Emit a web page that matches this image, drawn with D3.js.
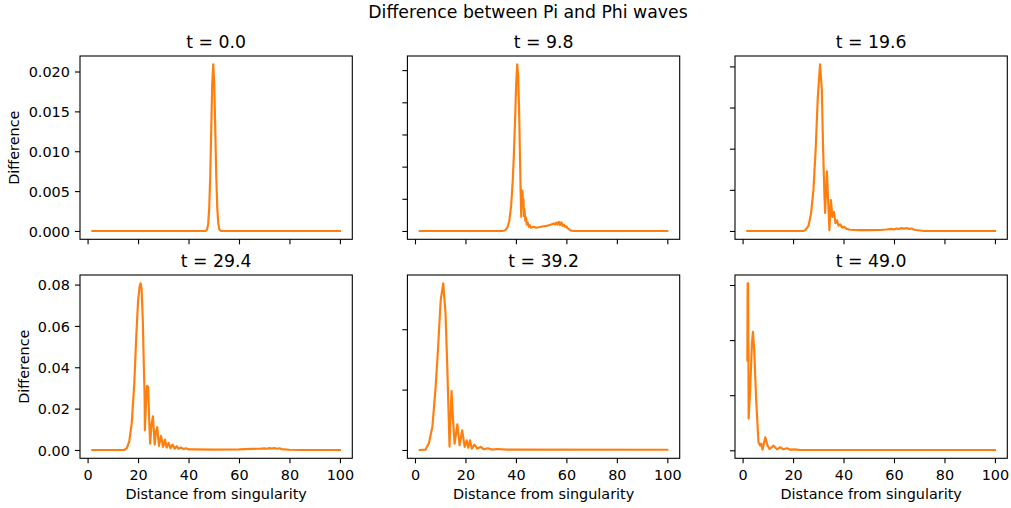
<!DOCTYPE html>
<html><head><meta charset="utf-8">
<script src="https://cdn.jsdelivr.net/npm/d3@7"></script>
<style>
body{margin:0;background:#fff;}
svg text{font-family:"DejaVu Sans",sans-serif;fill:#000;}
</style></head><body>
<svg id="c" width="1011" height="508"></svg>
<script>
// ---------------- data ----------------
const figTitle = "Difference between Pi and Phi waves";
const titles = ["t = 0.0","t = 9.8","t = 19.6","t = 29.4","t = 39.2","t = 49.0"];
const xLabel = "Distance from singularity";
const yLabel = "Difference";
const xStart = 1.9, xEnd = 100;
const xTicks = [0,20,40,60,80,100];
const xTickLabels = ["0","20","40","60","80","100"];

const yTicksT0 = [0,0.005,0.010,0.015,0.020];
const yTickLabelsT0 = ["0.000","0.005","0.010","0.015","0.020"];
const yTicksT9 = [0,0.005,0.010,0.015,0.020,0.025];
const yTicksT19 = [0,0.01,0.02,0.03,0.04];
const yTicksT29 = [0,0.02,0.04,0.06,0.08];
const yTickLabelsT29 = ["0.00","0.02","0.04","0.06","0.08"];
const yTicksT39 = [0,0.05,0.10];
const yTicksT49 = [0,0.1,0.2,0.3];

// [distance, difference]
const diffT0 = [[1.9,0],[46.2,0],[46.6,0.00001],[47.0,0.00005],[47.4,0.00023],[47.8,0.00092],[48.2,0.00283],[48.6,0.00679],[49.0,0.01268],[49.4,0.01844],[49.8,0.0209],[50.2,0.01844],[50.6,0.01268],[51.0,0.00679],[51.4,0.00283],[51.8,0.00092],[52.2,0.00023],[52.6,0.00005],[53.0,0.00001],[53.4,0],[100,0]];

const diffT9 = [[1.9,0],[34.6,0],[35.6,0.00008],[36.6,0.0005],[37.4,0.0016],[38.1,0.0039],[38.7,0.0075],[39.2,0.0119],[39.7,0.0176],[40.1,0.0228],[40.5,0.0259],[40.9,0.0241],[41.3,0.0181],[41.6,0.0117],[41.9,0.0057],[42.1,0.0022],[42.35,0.0063],[42.6,0.0062],[42.8,0.0039],[43.0,0.0049],[43.2,0.0023],[43.4,0.0034],[43.7,0.0016],[44.0,0.0021],[44.3,0.0010],[44.7,0.0013],[45.1,0.00065],[45.5,0.0009],[46.0,0.0005],[47,0.00065],[48,0.0005],[49,0.00057],[50,0.00065],[51,0.00073],[52,0.00078],[53,0.0009],[54,0.001],[55,0.00117],[55.5,0.001],[56,0.0013],[56.5,0.001],[57,0.00142],[57.5,0.0009],[58,0.00135],[58.5,0.00078],[59,0.001],[59.5,0.00065],[60,0.00073],[60.5,0.0004],[61,0.0003],[61.5,0.00013],[62,0.00005],[63,0],[100,0]];

const diffT19 = [[1.9,0],[24.0,0],[24.8,0.0002],[26.1,0.0012],[27.1,0.0041],[28.1,0.0101],[29.0,0.0203],[29.8,0.0324],[30.7,0.0405],[31.4,0.0344],[31.9,0.0203],[32.3,0.0113],[32.7,0.0044],[33.4,0.0145],[34.0,0.0061],[34.4,0.0002],[35.0,0.0075],[35.6,0.0034],[36.2,0.0046],[36.8,0.0019],[37.4,0.0026],[38.0,0.0013],[38.7,0.0016],[39.5,0.0008],[40.2,0.001],[41.3,0.0005],[42.6,0.0003],[44,0.00024],[46,0.0002],[50,0.0002],[54.5,0.00024],[57,0.00036],[59,0.0005],[60,0.00036],[61,0.0006],[62,0.00045],[63,0.0007],[64,0.00053],[65,0.0007],[66,0.0005],[67,0.0006],[68,0.0003],[70.3,0.00012],[72,0],[100,0]];

const diffT29 = [[1.9,0],[14.5,0],[15.5,0.0008],[16.5,0.004],[17.5,0.013],[18.5,0.032],[19.3,0.055],[20.0,0.072],[20.6,0.079],[21.0,0.0806],[21.4,0.078],[21.9,0.062],[22.3,0.040],[22.6,0.026],[22.7,0.0095],[23.2,0.024],[23.6,0.031],[24.0,0.0305],[24.4,0.015],[24.8,0.003],[25.3,0.012],[25.9,0.0163],[26.6,0.0026],[27.1,0.009],[27.6,0.011],[28.3,0.002],[29.1,0.0068],[29.9,0.0015],[30.7,0.005],[31.3,0.0012],[32.1,0.0034],[32.9,0.0008],[33.7,0.0026],[34.5,0.0006],[35.3,0.0018],[36.1,0.0005],[37.0,0.0012],[38.0,0.0004],[39.0,0.0008],[40.0,0.0003],[42,0.0003],[50,0.0002],[60,0.0003],[65,0.0005],[68,0.0006],[70,0.0008],[71,0.0006],[72,0.0009],[73,0.0007],[74,0.0009],[75,0.0006],[76,0.0008],[77,0.0004],[78,0.0003],[80,0.0001],[85,0],[100,0]];

const diffT39 = [[1.9,0],[4.2,0.0003],[5.5,0.0055],[6.9,0.0193],[8.2,0.0524],[9.1,0.0828],[10.2,0.1242],[11.2,0.138],[12.1,0.1132],[12.8,0.069],[13.5,0.0166],[13.7,0.0028],[14.5,0.0487],[15.0,0.0276],[15.7,0.0052],[16.8,0.0213],[17.7,0.0039],[18.7,0.0163],[19.7,0.0025],[20.5,0.008],[21.1,0.0019],[21.8,0.008],[22.5,0.0011],[23.6,0.0044],[24.7,0.0011],[26.0,0.0025],[27.3,0.0006],[28.9,0.0014],[30.6,0.0003],[32.6,0.0008],[36.5,0.0003],[100,0.0002]];

const diffT49 = [[1.9,0.163],[2.0,0.303],[2.2,0.303],[2.4,0.0576],[3.0,0.1085],[3.7,0.194],[4.1,0.215],[4.6,0.182],[5.4,0.0909],[6.3,0.0145],[7.0,0.0085],[7.4,0.0121],[7.9,0.0012],[9.0,0.0236],[9.9,0.0085],[10.7,0.0024],[12.3,0.0085],[13.6,0.0018],[14.9,0.0055],[16.2,0.0018],[17.6,0.0036],[18.9,0.0012],[20.5,0.0018],[22.5,0.0009],[25,0.0006],[100,0.0006]];

// ---------------- layout ----------------
const colLeft = [80, 407.4, 735];
const rowTop = [56, 275];
const plotW = 272.3, plotH = 183.3;
const fs = 14.4, titleFs = 17.3;
const tickLen = 5.05;

const panels = [
  {data: diffT0,  ticks: yTicksT0,  labels: yTickLabelsT0,  r:0, c:0},
  {data: diffT9,  ticks: yTicksT9,  labels: null, r:0, c:1},
  {data: diffT19, ticks: yTicksT19, labels: null, r:0, c:2},
  {data: diffT29, ticks: yTicksT29, labels: yTickLabelsT29, r:1, c:0},
  {data: diffT39, ticks: yTicksT39, labels: null, r:1, c:1},
  {data: diffT49, ticks: yTicksT49, labels: null, r:1, c:2}
];

const svg = d3.select("#c");
svg.append("rect").attr("width",1011).attr("height",508).attr("fill","#fff");

svg.append("text").attr("x", 528).attr("y", 18)
  .attr("text-anchor","middle").attr("font-size", titleFs).text(figTitle);

const span = xEnd - xStart;
const x = d3.scaleLinear().domain([xStart - 0.05*span, xEnd + 0.05*span]).range([0, plotW]);

panels.forEach((p, i) => {
  const left = colLeft[p.c], top = rowTop[p.r];
  const g = svg.append("g").attr("transform", `translate(${left},${top})`);
  const ymin = d3.min(p.data, d => d[1]), ymax = d3.max(p.data, d => d[1]);
  const ys = ymax - ymin;
  const y = d3.scaleLinear().domain([ymin - 0.05*ys, ymax + 0.05*ys]).range([plotH, 0]);

  // line
  g.append("path").datum(p.data)
    .attr("d", d3.line().x(d => x(d[0])).y(d => y(d[1])))
    .attr("fill","none").attr("stroke","#ff7f0e").attr("stroke-width",2.17)
    .attr("stroke-linejoin","round").attr("stroke-linecap","square");

  // x axis
  const xa = d3.axisBottom(x).tickValues(xTicks).tickSize(tickLen).tickPadding(6.45)
    .tickFormat((d, k) => p.r === 1 ? xTickLabels[k] : "");
  const gx = g.append("g").attr("transform", `translate(0,${plotH})`).call(xa);
  gx.select(".domain").remove();
  gx.selectAll("line").attr("stroke","#000").attr("stroke-width",1.1);
  gx.selectAll("text").attr("font-size", fs).attr("fill","#000").style("font-family","DejaVu Sans");

  // y axis
  const ya = d3.axisLeft(y).tickValues(p.ticks).tickSize(tickLen).tickPadding(5.05)
    .tickFormat((d, k) => p.labels ? p.labels[k] : "");
  const gy = g.append("g").call(ya);
  gy.select(".domain").remove();
  gy.selectAll("line").attr("stroke","#000").attr("stroke-width",1.1);
  gy.selectAll("text").attr("font-size", fs).attr("dy","0.36em").attr("fill","#000").style("font-family","DejaVu Sans");

  // frame
  g.append("rect").attr("width", plotW).attr("height", plotH)
    .attr("fill","none").attr("stroke","#000").attr("stroke-width",1.1);

  // title
  g.append("text").attr("x", plotW/2).attr("y", -8).attr("text-anchor","middle")
    .attr("font-size", titleFs).text(titles[i]);

  // y label
  if (p.labels) {
    let minX = 0;
    gy.selectAll("text").each(function(){ const b = this.getBBox(); minX = Math.min(minX, b.x); });
    const lx = minX - 5.8 - 3.4;
    g.append("text").attr("transform", `translate(${lx},${plotH/2}) rotate(-90)`)
      .attr("text-anchor","middle").attr("font-size", fs).text(yLabel);
  }
  // x label
  if (p.r === 1) {
    g.append("text").attr("x", plotW/2).attr("y", 499 - top).attr("text-anchor","middle")
      .attr("font-size", fs).text(xLabel);
  }
});
</script>
</body></html>
